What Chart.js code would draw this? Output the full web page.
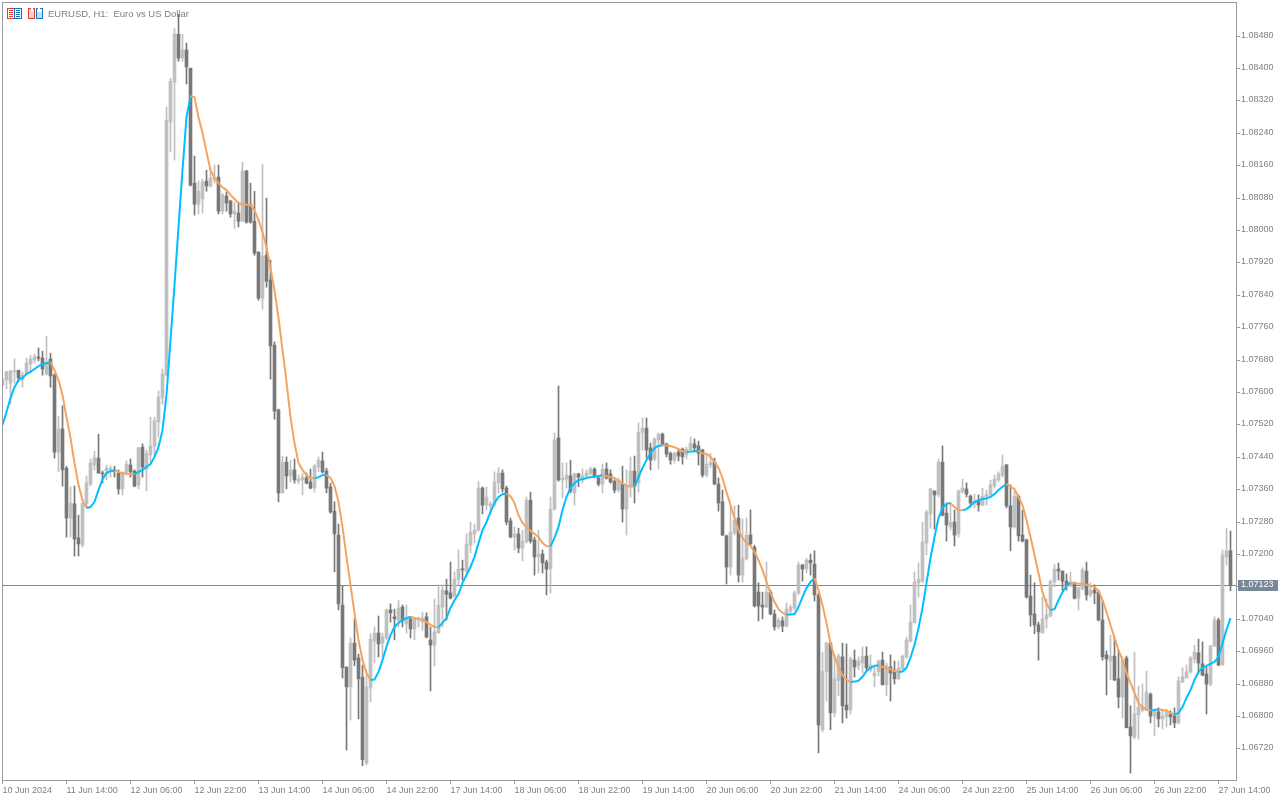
<!DOCTYPE html>
<html>
<head>
<meta charset="utf-8">
<style>html,body{margin:0;padding:0;background:#fff}canvas{display:block}</style>
<script src="https://cdn.jsdelivr.net/npm/chart.js@4"></script>
</head>
<body>
<canvas id="c" width="1280" height="800"></canvas>
<script>
// Prices are stored as price x 100000.
const high=[107636,107653,107655,107683,107655,107651,107685,107692,107695,107710,
107702,107739,107697,107646,107542,107567,107418,107367,107369,107297,
107327,107394,107436,107455,107497,107406,107421,107418,107418,107409,
107404,107431,107436,107409,107465,107473,107458,107539,107539,107604,
107658,108305,108376,108500,108534,108485,108463,108401,108184,108122,
108127,108149,108154,108162,108162,108092,108095,108075,108070,108070,
108169,108149,108117,108097,107947,108164,108080,107927,107725,107559,
107443,107441,107433,107436,107396,107401,107401,107411,107423,107441,
107453,107413,107376,107330,107275,107122,106922,106994,107041,106954,
106927,106915,107004,107021,107048,107006,107065,107078,107065,107087,
107075,107075,107046,107043,107046,107058,107056,107021,107090,107125,
107125,107139,107181,107157,107211,107186,107251,107280,107275,107381,
107367,107367,107330,107404,107414,107409,107369,107290,107268,107265,
107260,107342,107354,107243,107260,107211,107186,107342,107500,107616,
107426,107426,107433,107401,107401,107411,107409,107416,107414,107391,
107423,107426,107409,107384,107389,107418,107409,107441,107443,107525,
107537,107537,107475,107488,107500,107500,107475,107453,107453,107460,
107463,107465,107490,107485,107480,107460,107450,107450,107438,107389,
107359,107248,107320,107320,107322,107288,107290,107310,107223,107130,
107107,107181,107112,107063,107043,107046,107080,107075,107110,107181,
107176,107191,107201,107209,107105,106959,106984,106984,106952,106954,
106981,106979,106947,106964,106947,106972,106972,106952,106922,106939,
106959,106932,106952,106937,106937,106952,106996,107075,107157,107179,
107280,107310,107364,107357,107436,107468,107327,107327,107310,107359,
107386,107377,107347,107349,107347,107364,107359,107384,107396,107404,
107446,107423,107372,107359,107347,107310,107238,107149,107130,107033,
107095,107090,107137,107176,107179,107159,107152,107157,107132,107120,
107167,107181,107130,107125,107112,107087,106962,107001,106996,106964,
106947,106949,106826,106959,106875,106880,106912,106858,106816,106821,
106814,106818,106814,106821,106898,106920,106927,106949,106976,106991,
106984,106922,106976,107046,107043,107211,107265,107258];
const low=[107616,107609,107571,107623,107626,107613,107643,107648,107673,107678,
107643,107643,107613,107438,107404,107369,107243,107243,107196,107196,
107218,107317,107369,107409,107401,107376,107384,107391,107391,107349,
107347,107396,107391,107367,107362,107391,107357,107421,107441,107490,
107571,107641,108194,108174,108418,108418,108362,108110,108038,108041,
108043,108097,108107,108117,108041,108041,108048,108033,108006,108009,
108023,108018,108018,107939,107828,107806,107860,107633,107534,107330,
107352,107362,107379,107376,107374,107347,107374,107362,107354,107404,
107401,107352,107302,107157,107063,106895,106717,106791,106925,106794,
106678,106680,106836,106932,106947,106947,106989,107033,106989,107021,
107021,107006,106994,106989,107021,107013,106994,106863,106925,107006,
107021,107038,107090,107095,107125,107137,107144,107204,107228,107258,
107300,107310,107300,107320,107352,107354,107273,107241,107211,107204,
107184,107228,107228,107149,107154,107154,107100,107105,107310,107381,
107339,107364,107352,107322,107367,107376,107391,107396,107389,107369,
107352,107386,107376,107352,107354,107280,107248,107342,107327,107354,
107458,107438,107409,107431,107411,107470,107441,107423,107426,107431,
107423,107436,107455,107453,107421,107391,107391,107414,107372,107307,
107246,107127,107149,107248,107132,107132,107186,107223,107070,107036,
107041,107068,107051,107013,107016,107009,107021,107051,107063,107100,
107134,107154,107149,107085,106710,106762,106838,106767,106799,106851,
106784,106796,106806,106897,106915,106907,106910,106910,106873,106900,
106878,106851,106838,106880,106890,106915,106944,106984,107031,107095,
107130,107199,107265,107263,107342,107295,107233,107260,107221,107243,
107352,107342,107317,107315,107307,107320,107322,107344,107364,107379,
107391,107315,107209,107265,107233,107231,107092,107023,107004,106939,
107006,107018,107046,107120,107137,107110,107112,107120,107090,107063,
107112,107087,107095,107078,107036,106939,106853,106890,106888,106821,
106796,106772,106660,106744,106744,106811,106814,106784,106752,106774,
106769,106774,106779,106772,106781,106883,106895,106907,106932,106905,
106900,106806,106875,106972,106925,106927,107174,107110];
const open=[107618,107631,107623,107651,107655,107631,107648,107670,107680,107688,
107685,107646,107683,107643,107453,107510,107413,107290,107325,107241,
107223,107325,107374,107421,107438,107401,107406,107409,107409,107401,
107362,107404,107421,107406,107372,107465,107411,107446,107468,107527,
107586,107643,108268,108367,108485,108426,108446,108401,108117,108065,
108078,108122,108110,108127,108132,108048,108085,108073,108041,108043,
108023,108147,108065,108023,107947,107833,107939,107878,107717,107557,
107352,107428,107394,107409,107381,107384,107389,107379,107364,107416,
107431,107406,107367,107307,107248,107075,106922,106873,106981,106944,
106897,106685,106870,106986,107006,106981,106994,107063,107046,107036,
107070,107028,107041,107016,107038,107033,107046,106989,106976,107006,
107070,107110,107105,107097,107139,107164,107159,107223,107251,107260,
107364,107322,107320,107322,107377,107401,107364,107283,107243,107251,
107216,107231,107334,107236,107194,107201,107181,107164,107312,107488,
107384,107386,107394,107352,107399,107384,107394,107399,107411,107389,
107374,107411,107399,107381,107359,107374,107312,107369,107406,107376,
107502,107512,107463,107436,107483,107497,107473,107450,107433,107453,
107460,107446,107458,107473,107468,107458,107396,107421,107428,107374,
107330,107246,107169,107253,107290,107149,107189,107248,107218,107107,
107075,107070,107107,107053,107021,107036,107023,107060,107068,107105,
107174,107164,107186,107176,107100,106767,106910,106981,106809,106888,
106947,106828,106816,106939,106925,106932,106949,106915,106900,106910,
106939,106878,106922,106910,106893,106917,106947,106986,107031,107130,
107134,107228,107300,107357,107347,107428,107302,107268,107280,107251,
107354,107362,107344,107325,107332,107322,107342,107347,107369,107384,
107396,107421,107320,107268,107344,107248,107236,107097,107053,107026,
107006,107041,107048,107132,107164,107159,107134,107122,107130,107092,
107115,107159,107100,107112,107107,107038,106952,106937,106949,106893,
106848,106944,106774,106749,106804,106816,106816,106855,106801,106811,
106794,106799,106806,106801,106784,106885,106895,106910,106942,106957,
106930,106905,106880,106974,107038,106927,107194,107209];
const close=[107633,107651,107653,107653,107636,107643,107673,107683,107688,107685,
107658,107673,107641,107453,107510,107409,107290,107327,107238,107226,
107327,107377,107426,107438,107401,107399,107413,107413,107406,107362,
107401,107423,107404,107369,107463,107416,107450,107468,107530,107589,
107646,108273,108369,108485,108426,108446,108404,108112,108065,108097,
108120,108110,108130,108130,108048,108088,108068,108041,108048,108023,
108147,108021,108021,107944,107833,107937,107875,107715,107554,107352,
107428,107394,107409,107384,107386,107391,107376,107364,107418,107433,
107404,107364,107305,107251,107078,106920,106873,106981,106939,106893,
106693,106873,106991,107006,106979,106996,107063,107056,107041,107068,
107036,107041,107016,107041,107043,107043,106996,106976,107009,107075,
107112,107102,107092,107139,107164,107162,107226,107255,107260,107364,
107322,107342,107325,107379,107401,107362,107280,107243,107251,107216,
107233,107334,107233,107194,107201,107179,107164,107312,107483,107384,
107389,107396,107357,107399,107391,107394,107401,107411,107394,107374,
107411,107389,107379,107359,107384,107312,107372,107406,107369,107502,
107512,107458,107433,107485,107497,107473,107448,107433,107450,107443,
107441,107460,107475,107463,107450,107396,107423,107428,107374,107327,
107248,107169,107255,107285,107149,107191,107248,107226,107073,107073,
107070,107107,107053,107021,107038,107023,107065,107070,107105,107174,
107164,107186,107179,107100,106779,106912,106981,106809,106893,106949,
106826,106816,106942,106922,106937,106949,106920,106927,106907,106937,
106878,106925,106907,106893,106920,106949,106989,107033,107132,107139,
107231,107305,107362,107347,107428,107297,107273,107280,107248,107357,
107364,107349,107327,107330,107322,107344,107349,107372,107386,107399,
107418,107320,107268,107344,107246,107233,107095,107051,107026,107009,
107041,107051,107134,107164,107159,107134,107125,107132,107092,107117,
107162,107100,107112,107105,107038,106947,106942,106949,106890,106848,
106939,106772,106752,106806,106823,106823,106860,106801,106814,106794,
106801,106809,106799,106784,106888,106898,106910,106944,106959,106932,
106902,106880,106974,107038,106927,107199,107209,107123];
const hma=[107520,107552,107586,107613,107631,107636,107646,107651,107658,107665,
107670,107673,107675,107655,107631,107594,107539,107488,107426,107372,
107334,107315,107317,107330,107359,107386,107401,107406,107407,107404,
107401,107400,107399,107398,107404,107409,107416,107423,107441,107465,
107507,107594,107729,107865,108009,108149,108280,108332,108329,108280,
108241,108194,108149,108130,108117,108107,108100,108088,108078,108068,
108065,108064,108063,108050,108026,107996,107959,107907,107853,107784,
107705,107626,107539,107475,107426,107409,107396,107389,107388,107391,
107396,107397,107389,107369,107330,107268,107194,107125,107056,106989,
106939,106907,106890,106891,106910,106939,106972,107001,107021,107031,
107038,107043,107046,107043,107041,107038,107033,107026,107021,107020,
107031,107043,107068,107087,107102,107130,107149,107169,107194,107228,
107260,107280,107305,107327,107342,107349,107350,107344,107327,107297,
107278,107268,107258,107251,107243,107228,107221,107220,107241,107268,
107310,107342,107364,107376,107384,107386,107389,107391,107392,107394,
107396,107394,107391,107389,107381,107376,107369,107368,107367,107391,
107414,107433,107450,107463,107468,107470,107469,107468,107465,107460,
107455,107453,107454,107455,107456,107450,107448,107441,107428,107414,
107389,107354,107322,107290,107260,107241,107228,107221,107206,107186,
107162,107132,107105,107083,107065,107056,107051,107052,107053,107070,
107095,107117,107132,107142,107112,107075,107031,106981,106947,106922,
106902,106890,106885,106886,106888,106898,106912,106920,106925,106926,
106922,106920,106917,106912,106910,106911,106920,106945,106977,107018,
107068,107130,107191,107243,107290,107315,107325,107327,107317,107310,
107309,107312,107320,107330,107334,107337,107338,107342,107349,107359,
107367,107374,107367,107362,107342,107322,107285,107243,107199,107154,
107107,107078,107063,107065,107087,107107,107122,107130,107129,107128,
107127,107125,107122,107120,107110,107087,107058,107026,106994,106964,
106939,106907,106883,106858,106833,106823,106816,106815,106816,106818,
106816,106814,106809,106804,106809,106823,106846,106865,106890,106910,
106920,106925,106930,106935,106947,106981,107014,107043];
const yTicks=[108480,108400,108320,108240,108160,108080,108000,107920,107840,107760,107680,107600,107520,107440,107360,107280,107200,107120,107040,106960,106880,106800,106720];
const xTickLabels=["10 Jun 2024","11 Jun 14:00","12 Jun 06:00","12 Jun 22:00","13 Jun 14:00","14 Jun 06:00","14 Jun 22:00","17 Jun 14:00","18 Jun 06:00","18 Jun 22:00","19 Jun 14:00","20 Jun 06:00","20 Jun 22:00","21 Jun 14:00","24 Jun 06:00","24 Jun 22:00","25 Jun 14:00","26 Jun 06:00","26 Jun 22:00","27 Jun 14:00"];
const barsPerLabel=16;
const lastPrice=107123;
const titleText="EURUSD, H1:  Euro vs US Dollar";

const P=v=>v/100000;
const UP='#c0c0c0',DOWN='#787878',BLUE='#00bfff',ORANGE='#f4a460',FRAME='#9a9aa2',TXT='#808080',PRICE='#778899';
const FONT='9px "Liberation Sans"';
const candleColor=open.map((o,i)=>close[i]>=o?UP:DOWN);
const noPad=s=>{s.paddingTop=0;s.paddingBottom=0;s.paddingLeft=0;s.paddingRight=0;};

const overlay={
  id:'overlay',
  beforeDatasetsDraw(ch){
    const c=ch.ctx,a=ch.chartArea,y=Math.floor(ch.scales.y.getPixelForValue(P(lastPrice)));
    c.save();c.fillStyle=PRICE;c.fillRect(a.left,y,a.right-a.left,1);c.restore();
  },
  afterDraw(ch){
    const c=ch.ctx,a=ch.chartArea,y=Math.floor(ch.scales.y.getPixelForValue(P(lastPrice)));
    c.save();
    c.fillStyle=FRAME;
    c.fillRect(a.left,a.top-1,a.right-a.left+1,1);
    c.fillRect(a.left,a.top-1,1,a.bottom-a.top+2);
    c.fillRect(a.right,a.top-1,1,a.bottom-a.top+2);
    c.fillRect(a.left,a.bottom,a.right-a.left+1,1);
    // last price tag
    c.fillStyle=PRICE;c.fillRect(a.right+2,y-5,40,11);
    c.fillStyle='#fff';c.font=FONT;c.textAlign='left';c.textBaseline='middle';
    c.fillText((lastPrice/100000).toFixed(5),a.right+5,y);
    // title
    c.fillStyle=TXT;c.textBaseline='alphabetic';c.font='9.5px "Liberation Sans"';
    c.fillText(titleText,48,17);
    // toolbar icons
    const R='#e23c35',B='#1673b8';
    c.fillStyle='#fff';c.fillRect(7,8,7,10);c.fillRect(15,8,7,10);
    c.strokeStyle=R;c.lineWidth=1;c.strokeRect(7.5,8.5,7,10);
    c.strokeStyle=B;c.strokeRect(14.5,8.5,7,10);
    c.fillStyle=R;[10,12,14,16].forEach(v=>c.fillRect(9,v,4,1));
    c.fillStyle=B;[10,12,14,16].forEach(v=>c.fillRect(16,v,4,1));
    c.fillStyle='#f8cfc8';c.fillRect(28,8,7,11);
    c.strokeStyle=R;c.strokeRect(28.5,8.5,6,10);
    c.fillStyle='#fff';c.fillRect(31,8,2,4);
    c.fillStyle='#bfe0f5';c.fillRect(36,12,6,7);
    c.strokeStyle=B;c.strokeRect(36.5,8.5,6,10);
    c.fillStyle='#fff';c.fillRect(38,8,2,3);
    c.restore();
  }
};

new Chart(document.getElementById('c'),{
  type:'bar',
  plugins:[overlay],
  data:{datasets:[
    {type:'line',order:0,data:hma.map((v,i)=>({x:i,y:P(v)})),borderWidth:2,pointRadius:0,borderColor:BLUE,tension:0,
      segment:{borderColor:s=>s.p1.parsed.y>=s.p0.parsed.y?BLUE:ORANGE}},
    {order:1,data:open.map((o,i)=>({x:i,y:[P(o),P(close[i])]})),backgroundColor:candleColor,borderWidth:0,barThickness:3,grouped:false,minBarLength:1},
    {order:2,data:low.map((l,i)=>({x:i,y:[P(l),P(high[i])]})),backgroundColor:candleColor,borderWidth:0,barThickness:1,grouped:false}
  ]},
  options:{
    responsive:false,animation:false,
    layout:{padding:{left:2,top:3,right:0,bottom:0}},
    plugins:{legend:{display:false},tooltip:{enabled:false},title:{display:false}},
    scales:{
      x:{type:'linear',offset:false,min:-0.125,max:308.375,
        afterBuildTicks(s){s.ticks=xTickLabels.map((_,i)=>({value:i*barsPerLabel}));},
        afterFit(s){s.height=20;noPad(s);},
        border:{display:false},
        grid:{offset:false,drawOnChartArea:false,tickLength:4,color:FRAME,tickColor:FRAME},
        ticks:{autoSkip:false,maxRotation:0,align:'start',padding:1,color:TXT,font:{family:'"Liberation Sans"',size:9},
          callback:(v)=>xTickLabels[Math.round(v/barsPerLabel)]}},
      y:{type:'linear',position:'right',min:P(106643),max:P(108562),
        afterBuildTicks(s){s.ticks=yTicks.map(v=>({value:P(v)}));},
        afterFit(s){s.width=44;noPad(s);},
        border:{display:false},
        grid:{drawOnChartArea:false,tickLength:4,color:FRAME,tickColor:FRAME},
        ticks:{autoSkip:false,padding:1,labelOffset:-1,color:TXT,font:{family:'"Liberation Sans"',size:9},
          callback:v=>v.toFixed(5)}}
    }
  }
});
</script>
</body>
</html>
